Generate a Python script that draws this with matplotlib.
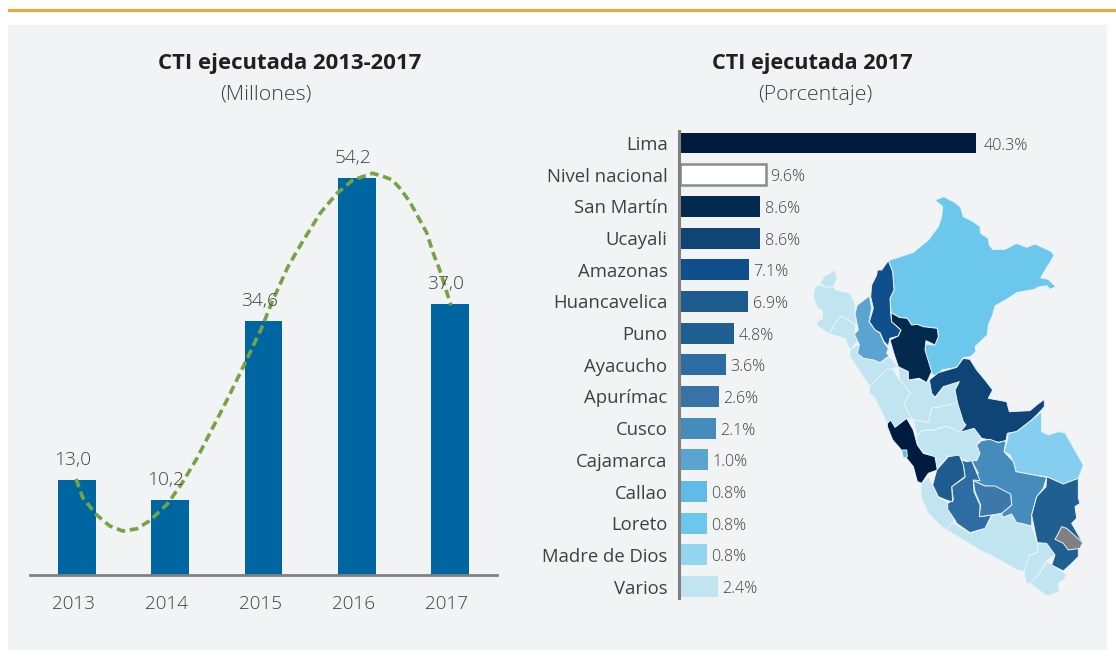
import matplotlib
matplotlib.use('Agg')
from matplotlib import pyplot as plt
from matplotlib.patches import Polygon, Rectangle
from matplotlib.transforms import ScaledTranslation

# izquierda
years = ['2013', '2014', '2015', '2016', '2017']
cti_millones = [13.0, 10.2, 34.6, 54.2, 37.0]
cti_labels = ['13,0', '10,2', '34,6', '54,2', '37,0']
# linea punteada
trend_x = [-0.01, 0.06, 0.21, 0.35, 0.49, 0.64, 0.78, 0.97, 1.13, 1.29, 1.46, 1.61, 1.79, 1.98,
           2.09, 2.26, 2.41, 2.61, 2.79, 2.96, 3.17, 3.28, 3.38, 3.46, 3.57, 3.66, 3.75, 3.82, 3.89, 4.01]
trend_y = [13.1, 10.6, 8.2, 6.7, 6.0, 6.3, 7.4, 9.7, 12.6, 16.0, 20.2, 23.9, 28.6, 33.7,
           37.2, 42.0, 45.3, 49.4, 52.1, 53.9, 54.8, 54.4, 53.9, 52.8, 50.9, 48.8, 46.7, 43.9, 41.6, 36.8]

# derecha
regiones = ['Lima', 'Nivel nacional', 'San Martín', 'Ucayali', 'Amazonas', 'Huancavelica', 'Puno',
            'Ayacucho', 'Apurímac', 'Cusco', 'Cajamarca', 'Callao', 'Loreto', 'Madre de Dios', 'Varios']
porcentaje = ['40.3%', '9.6%', '8.6%', '8.6%', '7.1%', '6.9%', '4.8%', '3.6%', '2.6%', '2.1%',
              '1.0%', '0.8%', '0.8%', '0.8%', '2.4%']
# el largo dibujado no es proporcional al porcentaje, se lee tal cual
largo_barra = [296, 86, 80, 80, 69, 68, 54, 46, 39, 36, 28, 27, 27, 27, 38]
colores = ['#001A40', '#FFFFFF', '#04294F', '#0F4476', '#0F4F8B', '#1E5C90', '#1F5F92', '#2E6DA3',
           '#3873A8', '#458BBB', '#5BA3D0', '#62BBE6', '#6CC7EC', '#93D5EE', '#C1E4F1']

# mapa
tumbes = [(60, 280), (72, 260), (105, 240), (112, 265), (100, 290), (80, 292)]
piura = [(40, 320), (45, 290), (58, 285), (85, 292), (100, 290), (108, 300), (150, 310), (165, 340),
         (165, 370), (170, 405), (125, 378), (105, 400), (88, 432), (55, 410), (50, 395), (68, 385),
         (68, 365), (50, 350)]
lambayeque = [(88, 432), (105, 400), (125, 378), (168, 405), (163, 432), (175, 450), (150, 480), (135, 445)]
la_libertad = [(150, 480), (172, 465), (178, 465), (172, 490), (190, 505), (222, 510), (240, 518),
               (268, 500), (295, 532), (275, 535), (250, 560), (210, 590), (180, 545), (150, 500)]
ancash = [(210, 590), (258, 540), (275, 535), (300, 570), (332, 608), (312, 640), (325, 670),
          (338, 690), (320, 685), (285, 712), (262, 700), (225, 625), (208, 608)]
huanuco = [(295, 532), (325, 545), (325, 570), (358, 568), (380, 578), (388, 570), (405, 625),
           (430, 590), (478, 572), (465, 600), (473, 640), (395, 655), (385, 697), (340, 690),
           (325, 670), (312, 640), (332, 608), (300, 570)]
pasco = [(395, 655), (450, 645), (473, 638), (480, 660), (495, 695), (498, 710), (480, 727), (455, 715),
         (420, 712), (405, 720), (370, 720), (350, 735), (340, 690), (385, 697)]
junin = [(350, 735), (370, 722), (405, 720), (440, 708), (480, 727), (522, 713), (545, 745), (530, 765),
         (540, 790), (530, 812), (510, 815), (478, 805), (445, 797), (420, 825), (410, 840), (408, 805),
         (370, 785), (352, 765)]
ica = [(365, 880), (385, 860), (398, 885), (415, 922), (443, 935), (443, 958), (465, 990), (442, 1022),
       (420, 1005), (385, 970), (365, 925), (362, 900)]
arequipa = [(455, 1000), (465, 1002), (510, 1030), (555, 1015), (578, 975), (605, 970), (610, 982),
            (635, 972), (650, 998), (695, 1008), (712, 1060), (712, 1088), (688, 1095), (675, 1145),
            (650, 1140), (600, 1110), (540, 1080), (440, 1020)]
moquegua = [(672, 1145), (688, 1095), (712, 1088), (715, 1060), (740, 1060), (765, 1095), (740, 1112),
            (715, 1155), (695, 1180), (680, 1180)]
tacna = [(690, 1180), (715, 1155), (742, 1115), (765, 1130), (800, 1155), (790, 1170), (775, 1180),
         (778, 1205), (740, 1218), (710, 1195)]
loreto = [(405, 30), (432, 20), (465, 38), (482, 52), (490, 80), (520, 95), (540, 110), (542, 130), (565, 145),
          (568, 165), (578, 178), (615, 178), (650, 160), (680, 172), (705, 162), (755, 185), (762, 197),
          (722, 263), (745, 268), (768, 290), (750, 298), (740, 287), (712, 292), (705, 298), (650, 308),
          (620, 328), (585, 348), (578, 375), (565, 405), (562, 435), (525, 470), (528, 485), (512, 500),
          (490, 503), (470, 532), (425, 540), (412, 565), (390, 545), (375, 480), (378, 462), (400, 465),
          (415, 440), (412, 415), (370, 410), (352, 403), (335, 405), (322, 385), (298, 382), (273, 368),
          (270, 325), (282, 300), (278, 245), (265, 212), (340, 187), (385, 150), (415, 110), (425, 80), (428, 50)]
amazonas = [(265, 212), (278, 245), (282, 300), (270, 325), (272, 368), (275, 395), (303, 420), (295, 438),
            (270, 445), (265, 468), (252, 455), (240, 428), (225, 420), (208, 395), (220, 355), (212, 320),
            (215, 285), (230, 255), (232, 240), (245, 240)]
cajamarca = [(208, 318), (215, 355), (207, 395), (225, 420), (240, 430), (252, 458), (265, 475), (260, 490),
             (268, 497), (240, 518), (222, 510), (190, 505), (172, 490), (178, 465), (163, 432), (175, 420),
             (165, 370), (172, 345)]
san_martin = [(273, 368), (298, 382), (322, 385), (335, 405), (352, 403), (370, 410), (412, 415), (415, 440),
              (405, 465), (378, 452), (375, 480), (395, 545), (380, 578), (358, 565), (325, 570), (325, 545),
              (295, 530), (283, 495), (270, 450), (295, 438), (303, 420), (275, 395)]
ucayali = [(388, 570), (415, 548), (470, 532), (490, 505), (510, 508), (530, 540), (555, 570), (578, 600),
           (565, 625), (620, 635), (628, 665), (690, 662), (710, 645), (733, 628), (733, 650), (720, 665),
           (695, 690), (650, 725), (622, 730), (618, 752), (595, 757), (570, 750), (545, 745), (522, 715),
           (480, 727), (498, 705), (490, 695), (473, 640), (465, 600), (478, 575), (430, 590), (405, 622), (395, 610)]
lima_mapa = [(262, 700), (272, 690), (285, 712), (320, 685), (340, 720), (352, 765), (370, 790), (405, 800),
             (412, 840), (385, 850), (365, 880), (352, 875), (340, 830), (320, 805), (300, 775), (278, 750), (262, 710)]
callao = [(305, 780), (320, 780), (322, 800), (310, 805)]
madre_de_dios = [(725, 665), (725, 725), (745, 735), (775, 725), (795, 728), (850, 825), (845, 840), (835, 865),
                 (790, 882), (740, 860), (700, 855), (648, 845), (640, 815), (630, 795), (612, 785), (622, 750),
                 (625, 730), (650, 725), (695, 690)]
cusco = [(545, 752), (570, 748), (595, 758), (618, 752), (612, 785), (640, 815), (648, 845), (740, 862), (730, 895),
         (710, 920), (695, 975), (695, 1008), (665, 1000), (650, 998), (635, 972), (608, 982), (605, 970), (635, 945),
         (632, 915), (585, 890), (555, 888), (520, 872), (535, 850), (515, 812), (530, 812), (540, 790), (530, 765)]
apurimac = [(520, 872), (555, 888), (585, 888), (632, 912), (635, 945), (605, 970), (575, 975), (538, 980),
            (542, 945), (525, 905)]
ayacucho = [(478, 808), (490, 825), (495, 862), (455, 890), (460, 930), (443, 940), (443, 958), (465, 990),
            (470, 1000), (510, 1028), (555, 1015), (575, 975), (540, 980), (540, 945), (522, 905), (520, 870),
            (540, 872), (515, 812), (500, 815)]
huancavelica = [(445, 800), (478, 795), (490, 825), (495, 860), (455, 890), (458, 935), (443, 932), (415, 920),
                (398, 885), (410, 840)]
puno = [(740, 860), (790, 882), (835, 865), (835, 925), (840, 940), (825, 950), (830, 985), (815, 1000), (848, 1058),
        (835, 1080), (835, 1100), (815, 1120), (790, 1143), (755, 1125), (765, 1095), (740, 1060), (712, 1058),
        (705, 1025), (695, 975), (710, 920), (738, 890)]
lago = [(785, 1010), (800, 1015), (848, 1058), (840, 1075), (805, 1080), (790, 1060), (765, 1048), (775, 1030)]

mapa = [(tumbes, '#C1E4F1'), (piura, '#C1E4F1'), (lambayeque, '#C1E4F1'), (la_libertad, '#C1E4F1'),
        (ancash, '#C1E4F1'), (huanuco, '#C1E4F1'), (pasco, '#C1E4F1'), (junin, '#C1E4F1'), (ica, '#C1E4F1'),
        (arequipa, '#C1E4F1'), (moquegua, '#C1E4F1'), (tacna, '#C1E4F1'), (loreto, '#6CC7EC'),
        (amazonas, '#0F4F8B'), (cajamarca, '#5BA3D0'), (san_martin, '#04294F'), (ucayali, '#0F4476'),
        (lima_mapa, '#001A40'), (callao, '#62BBE6'), (madre_de_dios, '#86CEF0'), (cusco, '#458BBB'),
        (ayacucho, '#2E6DA3'), (apurimac, '#3D78AB'), (huancavelica, '#1E5C90'), (puno, '#1F5F92'), (lago, '#808083')]

W, H = 1116, 659
plt.rcParams['font.family'] = ['Open Sans', 'DejaVu Sans']
TXT = '#404040'


def axes_px(fig, x0, y0, x1, y1):
    # caja en pixeles de la imagen, y hacia abajo
    return fig.add_axes([x0 / W, 1 - y1 / H, (x1 - x0) / W, (y1 - y0) / H])


fig = plt.figure(figsize=(W / 100, H / 100), dpi=100, facecolor='white')
# zorder negativo, si no tapan a los axes
fig.patches.append(Rectangle((8 / W, 1 - 650 / H), 1099 / W, 625 / H, transform=fig.transFigure,
                             facecolor='#F1F3F5', edgecolor='none', zorder=-2))
fig.patches.append(Rectangle((8 / W, 1 - 11.5 / H), 1108 / W, 2.8 / H, transform=fig.transFigure,
                             facecolor='#F9A13A', edgecolor='none', zorder=-2))

# barras 2013-2017
ax = axes_px(fig, 30, 130, 497, 575)
ax.patch.set_alpha(0)
pos = list(range(len(years)))
ax.bar(pos, cti_millones, width=0.405, color='#0066A1', zorder=2)
ax.plot(trend_x, trend_y, color='#76A343', lw=2.6, dashes=(2.4, 1.3), zorder=3, clip_on=False)
for i in pos:
    ax.annotate(cti_labels[i], (i, cti_millones[i]), xytext=(-3, 8), textcoords='offset points',
                ha='center', va='bottom', fontsize=13.8, color=TXT, fontweight='light', zorder=4)
ax.set_xlim(-0.504, 4.504)
ax.set_ylim(0, 445 / 7.33)
ax.set_xticks(pos, years)
ax.set_yticks([])
ax.tick_params(axis='x', length=0, pad=14.5, labelsize=13.6, labelcolor=TXT)
for lbl in ax.get_xticklabels():
    lbl.set_fontweight('light')
    lbl.set_transform(lbl.get_transform() + ScaledTranslation(-3.5 / 100, 0, fig.dpi_scale_trans))
for s in ['top', 'left', 'right']:
    ax.spines[s].set_visible(False)
ax.spines['bottom'].set_color('#808083')
ax.spines['bottom'].set_linewidth(2)

# barras 2017
ax2 = axes_px(fig, 680, 131, 1000, 598)
ax2.patch.set_alpha(0)
filas = list(range(len(regiones)))
for i in filas:
    borde = '#8A8A8D' if regiones[i] == 'Nivel nacional' else 'none'
    gap = 8 if regiones[i] == 'Lima' else 4.5
    ax2.barh(i, largo_barra[i], height=0.66, color=colores[i], edgecolor=borde, linewidth=1.8)
    ax2.text(largo_barra[i] + gap, i + 0.08, porcentaje[i], va='center', ha='left', fontsize=11.6,
             color=TXT, fontweight='light')
ax2.set_xlim(0, 320)
ax2.set_ylim(14.36, -0.38)
ax2.set_yticks(filas, regiones)
ax2.set_xticks([])
ax2.tick_params(axis='y', length=0, pad=8, labelsize=13.3, labelcolor=TXT)
for lbl in ax2.get_yticklabels():
    lbl.set_fontweight('light')
for s in ['top', 'right', 'bottom']:
    ax2.spines[s].set_visible(False)
ax2.spines['left'].set_color('#808083')
ax2.spines['left'].set_linewidth(2.2)
ax2.spines['left'].set_position(('outward', 1))

# mapa
ax3 = axes_px(fig, 800, 190, 1100, 605)
ax3.set_xlim(0, 900)
ax3.set_ylim(1245, 0)
ax3.axis('off')
for poly, col in mapa:
    ax3.add_patch(Polygon(poly, closed=True, facecolor=col, edgecolor='#EAF3F7', linewidth=0.7, joinstyle='round'))

# titulos
fig.text(289.5 / W, 1 - 64 / H, 'CTI ejecutada 2013-2017', ha='center', va='center', fontsize=15.9,
         fontweight='bold', color='#231F20')
fig.text(266 / W, 1 - 95 / H, '(Millones)', ha='center', va='center', fontsize=15.4, color=TXT, fontweight='light')
fig.text(812 / W, 1 - 64 / H, 'CTI ejecutada 2017', ha='center', va='center', fontsize=15.6,
         fontweight='bold', color='#231F20')
fig.text(815 / W, 1 - 95 / H, '(Porcentaje)', ha='center', va='center', fontsize=15.4, color=TXT, fontweight='light')

fig.savefig('out.png', dpi=100)
